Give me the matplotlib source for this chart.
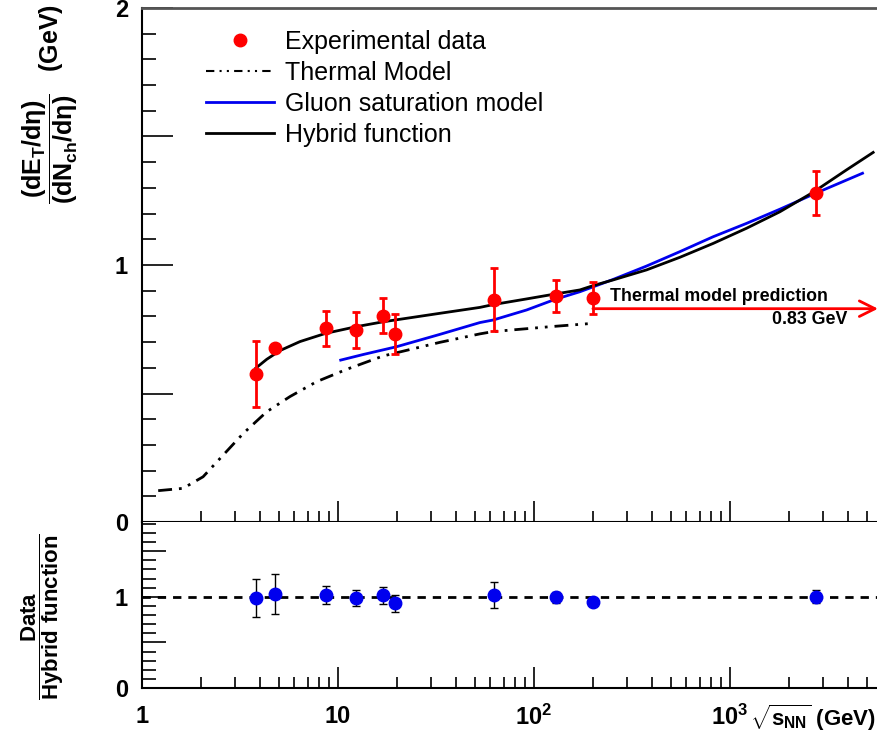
import numpy as np
import matplotlib
matplotlib.use('Agg')
import matplotlib.pyplot as plt
from matplotlib.lines import Line2D
from matplotlib.ticker import FixedLocator, LogLocator, NullFormatter

plt.rcParams['font.family'] = 'Liberation Sans'
plt.rcParams['mathtext.fontset'] = 'custom'
plt.rcParams['mathtext.rm'] = 'Liberation Sans:bold'
plt.rcParams['mathtext.it'] = 'Liberation Sans:bold'
plt.rcParams['mathtext.bf'] = 'Liberation Sans:bold'

# experimental points
energy = [3.8, 4.8, 8.7, 12.4, 17.0, 19.6, 62.4, 130, 200, 2760]
et_nch = [0.575, 0.676, 0.754, 0.747, 0.803, 0.730, 0.865, 0.879, 0.872, 1.279]
et_err = [0.128, 0.01, 0.068, 0.069, 0.069, 0.078, 0.123, 0.061, 0.062, 0.086]

# data / hybrid function
ratio = [0.99, 1.03, 1.02, 0.99, 1.015, 0.93, 1.02, 0.995, 0.94, 1.0]
ratio_err = [0.21, 0.22, 0.094, 0.09, 0.09, 0.094, 0.14, 0.06, 0.03, 0.07]

# hybrid function
hyb_x = [3.8, 4.33, 5.06, 6.40, 8.65, 12.4, 17.0, 33.1, 53, 62, 91.8, 128,
         171.7, 201, 254, 376, 556, 822, 1217, 1799, 2661, 3937, 5385]
hyb_y = [0.598, 0.633, 0.667, 0.702, 0.734, 0.760, 0.779, 0.812, 0.835, 0.846,
         0.868, 0.887, 0.903, 0.920, 0.942, 0.981, 1.030, 1.084, 1.143, 1.207,
         1.283, 1.370, 1.438]

# gluon saturation model
cgc_x = [10.33, 13.5, 19.9, 33.1, 53, 62, 91.8, 128, 171.7, 254, 376, 556,
         822, 1217, 1799, 2661, 4752]
cgc_y = [0.630, 0.652, 0.682, 0.730, 0.776, 0.786, 0.825, 0.866, 0.896, 0.944,
         0.996, 1.052, 1.110, 1.162, 1.217, 1.275, 1.357]

# thermal model
th_x = [1.21, 1.62, 2.05, 2.60, 3.29, 4.33, 5.69, 7.78, 11.07, 17.0, 33.1,
        53, 62, 121, 200]
th_y = [0.122, 0.131, 0.176, 0.261, 0.345, 0.429, 0.488, 0.546, 0.594, 0.646,
        0.699, 0.732, 0.741, 0.760, 0.773]

thermal_pred = 0.83
xmin, xmax = 1, 5700

fig = plt.figure(figsize=(8.78, 7.45), dpi=100)
ax = fig.add_axes([0.1617, 0.2993, 0.8383, 0.69])
ax2 = fig.add_axes([0.1617, 0.0765, 0.8383, 0.2228])

ax.plot(th_x, th_y, color='black', lw=2, ls=(0, (5, 2.5, 1, 2.5, 1, 2.5)))
ax.plot(cgc_x, cgc_y, color='#0000ee', lw=2)
ax.plot(hyb_x, hyb_y, color='black', lw=2)
ax.errorbar(energy, et_nch, yerr=et_err, fmt='o', color='red', ms=9,
            elinewidth=2, capsize=3, capthick=2, zorder=5)

ax.annotate('', xy=(xmax, thermal_pred), xytext=(200, thermal_pred),
            arrowprops=dict(arrowstyle='->', color='red', lw=2,
                            mutation_scale=28, shrinkA=0, shrinkB=0))
ax.text(244, 0.877, 'Thermal model prediction', fontsize=12.8,
        fontweight='bold', va='center')
ax.text(1632, 0.786, '0.83 GeV', fontsize=12.8, fontweight='bold', va='center')

handles = [Line2D([], [], ls='none', marker='o', color='red', ms=9),
           Line2D([], [], color='black', lw=1.5, ls=(0, (4, 2.5, 1, 2.5, 1, 2.5))),
           Line2D([], [], color='#0000ee', lw=2),
           Line2D([], [], color='black', lw=2)]
labels = ['Experimental data', 'Thermal Model', 'Gluon saturation model',
          'Hybrid function']
ax.legend(handles, labels, loc='upper left', bbox_to_anchor=(0.087, 0.958),
          frameon=False, fontsize=18, handlelength=2.7, handletextpad=0.45,
          labelspacing=0.28, borderpad=0, borderaxespad=0)

# ratio panel
ax2.axhline(1, color='black', lw=2, ls=(0, (3, 2.5)))
ax2.errorbar(energy, ratio, yerr=ratio_err, fmt='o', color='#0000ee', ms=9,
             ecolor='black', elinewidth=1, capsize=3, capthick=1, zorder=5)

for a in (ax, ax2):
    a.set_xscale('log')
    a.set_xlim(xmin, xmax)
    a.spines['right'].set_visible(False)
    a.xaxis.set_major_locator(LogLocator(base=10))
    a.xaxis.set_minor_locator(LogLocator(base=10, subs=np.arange(2, 10)))
    a.xaxis.set_minor_formatter(NullFormatter())
    a.tick_params(axis='both', which='both', direction='in', width=1.2)
    a.tick_params(axis='x', which='major', length=15, top=False)
    a.tick_params(axis='x', which='minor', length=8, top=False)
    a.tick_params(axis='y', which='minor', length=10)
    for s in ('left', 'bottom'):
        a.spines[s].set_linewidth(1.5)

ax.spines['top'].set_color('#555555')
ax.spines['top'].set_linewidth(2)
ax2.spines['top'].set_visible(False)

ax.set_ylim(0, 2)
ax.yaxis.set_major_locator(FixedLocator([0, 0.5, 1, 1.5, 2]))
ax.set_yticklabels(['0', '', '1', '', '2'])
ax.yaxis.set_minor_locator(FixedLocator(np.arange(0, 2.01, 0.1)))
ax.tick_params(axis='y', which='major', length=22)
ax.tick_params(axis='x', labelbottom=False)
ax.tick_params(axis='y', labelsize=17, pad=10)
for t in ax.get_yticklabels():
    t.set_fontweight('bold')

ax2.set_ylim(0, 1.82)
ax2.yaxis.set_major_locator(FixedLocator([0, 0.5, 1, 1.5]))
ax2.set_yticklabels(['0', '', '1', ''])
ax2.yaxis.set_minor_locator(FixedLocator(np.arange(0, 1.81, 0.1)))
ax2.tick_params(axis='y', which='major', length=17)
ax2.tick_params(axis='y', labelsize=17, pad=10)
ax2.set_xticks([1, 10, 100, 1000])
ax2.set_xticklabels(['1', '10', r'$10^2$', r'$10^3$'])
ax2.tick_params(axis='x', labelsize=17, pad=12)
for t in ax2.get_yticklabels() + ax2.get_xticklabels():
    t.set_fontweight('bold')

fig.text(0.057, 0.86, r'$\dfrac{(dE_T/d\eta)}{(dN_{ch}/d\eta)}$   (GeV)',
         rotation=90, ha='center', va='center', fontsize=18, fontweight='bold')
fig.text(0.048, 0.172, r'$\dfrac{Data}{Hybrid\ function}$',
         rotation=90, ha='center', va='center', fontsize=16)
fig.text(0.998, 1 - 718 / 745, r'$\sqrt{s_{NN}}$ (GeV)', ha='right',
         va='center', fontsize=16, fontweight='bold')

fig.savefig('out.png', dpi=100)
